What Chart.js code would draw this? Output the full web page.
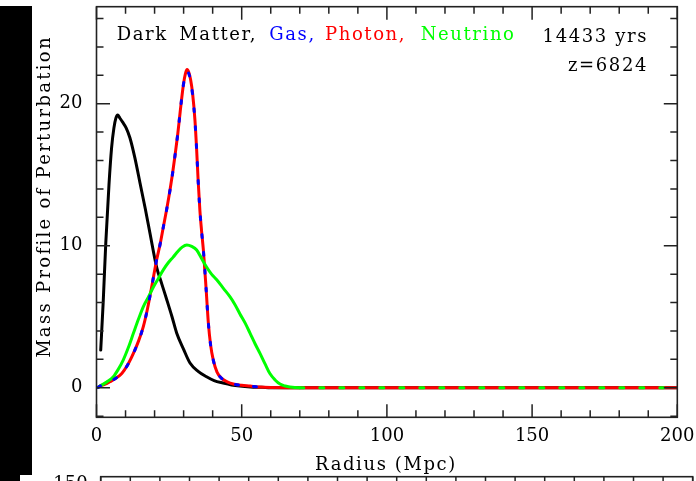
<!DOCTYPE html>
<html><head><meta charset="utf-8">
<script src="https://cdn.jsdelivr.net/npm/chart.js@4"></script>
<style>
html,body{margin:0;padding:0;background:#fff;width:696px;height:481px;overflow:hidden}
body{position:relative}
#c1{position:absolute;left:0;top:0}
#c2{position:absolute;left:20px;top:475px;background:#fff}
.blk{position:absolute;background:#000}
</style></head><body>
<div class="blk" style="left:0;top:6px;width:32px;height:469px"></div>
<div class="blk" style="left:0;top:475px;width:20px;height:6px"></div>
<canvas id="c1" width="696" height="481"></canvas>
<canvas id="c2" width="676" height="481"></canvas>
<script>
// ---------- data ----------
const xTicks = [0, 50, 100, 150, 200];
const yTicks = [0, 10, 20];
const lowerYTicks = [150];

const darkR = [1.45, 2.3, 3.2, 4.3, 5.2, 6.0, 6.7, 7.3, 8.0, 9.0, 10.2, 11.5, 13.2, 15.0, 16.8, 18.4, 20.7, 22.5, 24.2, 26.0, 27.6, 30.0, 32.2, 35.0, 37.9, 40.5, 43.6, 46.5, 49.4, 53, 57, 60, 80, 100, 120, 140, 160, 180, 200];
const darkM = [2.65, 6.0, 10.2, 14.3, 16.9, 18.3, 19.0, 19.2, 19.0, 18.7, 18.3, 17.6, 16.2, 14.4, 12.6, 10.9, 8.5, 7.3, 6.2, 5.0, 3.86, 2.7, 1.74, 1.15, 0.77, 0.5, 0.33, 0.2, 0.12, 0.06, 0.03, 0.0, 0, 0, 0, 0, 0, 0, 0];

const photonR = [0.5, 1.2, 3.0, 4.6, 6.5, 8.7, 10.7, 12.7, 14.5, 16.1, 17.6, 19.0, 20.7, 22.0, 23.0, 24.2, 25.3, 26.2, 27.0, 28.0, 28.8, 29.9, 30.6, 31.2, 31.8, 32.4, 33.1, 33.9, 34.5, 35.0, 35.6, 36.2, 36.8, 37.7, 38.5, 39.3, 40.2, 41.5, 43.1, 45.0, 47.1, 50.0, 52.9, 56, 60, 80, 100, 120, 140, 160, 180, 200];
const photonM = [0.02, 0.12, 0.25, 0.42, 0.65, 1.01, 1.6, 2.42, 3.3, 4.29, 5.6, 7.1, 8.99, 10.2, 11.3, 12.6, 13.9, 15.1, 16.3, 17.9, 19.4, 21.3, 22.1, 22.4, 22.2, 21.7, 20.7, 18.85, 16.7, 14.6, 12.5, 11.0, 9.7, 7.1, 4.6, 3.0, 1.96, 1.1, 0.66, 0.42, 0.26, 0.18, 0.12, 0.05, 0.02, 0, 0, 0, 0, 0, 0, 0];

const gasR = [0.5, 1.2, 3.0, 4.6, 6.5, 8.7, 10.7, 12.7, 14.5, 16.1, 17.6, 19.0, 20.7, 22.0, 23.0, 24.2, 25.3, 26.2, 27.0, 28.0, 28.8, 29.9, 30.6, 31.2, 31.8, 32.4, 33.1, 33.9, 34.5, 35.0, 35.6, 36.2, 36.8, 37.7, 38.5, 39.3, 40.2, 41.5, 43.1, 45.0, 47.1, 50.0, 52.9, 56, 60, 80, 100, 120, 140, 160, 180, 200];
const gasM = [0.02, 0.12, 0.25, 0.42, 0.65, 1.01, 1.6, 2.42, 3.3, 4.29, 5.6, 7.1, 8.99, 10.2, 11.3, 12.6, 13.9, 15.1, 16.3, 17.9, 19.4, 21.3, 22.0, 22.3, 22.1, 21.6, 20.6, 18.8, 16.7, 14.6, 12.5, 11.0, 9.7, 7.1, 4.6, 3.0, 1.96, 1.1, 0.66, 0.42, 0.26, 0.18, 0.12, 0.05, 0.02, 0, 0, 0, 0, 0, 0, 0];

const nuR = [0.5, 1.2, 3.5, 5.8, 7.5, 9.2, 11.0, 12.7, 14.4, 16.1, 17.9, 19.6, 21.3, 23.0, 24.7, 26.4, 28.0, 29.5, 31.1, 32.8, 34.5, 36.2, 37.9, 39.6, 41.4, 43.7, 46.0, 47.7, 49.4, 51.2, 52.9, 54.6, 56.3, 58.0, 59.7, 61.5, 63.2, 65.0, 66.6, 70, 80, 100, 120, 140, 160, 180, 200];
const nuM = [0.03, 0.12, 0.4, 0.77, 1.3, 1.95, 2.85, 3.83, 4.8, 5.7, 6.4, 7.1, 7.7, 8.3, 8.8, 9.2, 9.6, 9.9, 10.05, 9.95, 9.7, 9.1, 8.5, 8.0, 7.6, 7.0, 6.4, 5.85, 5.2, 4.55, 3.83, 3.1, 2.42, 1.7, 1.0, 0.55, 0.26, 0.12, 0.05, 0, 0, 0, 0, 0, 0, 0, 0];

// ---------- helpers ----------
const zip = (r, m) => r.map((v, i) => ({x: v, y: m[i]}));
const SERIF = '"DejaVu Serif", serif';

function innerTicks(chart, xs, ys, sides) {
  const ctx = chart.ctx, a = chart.chartArea;
  const sx = chart.scales.x, sy = chart.scales.y;
  ctx.save();
  ctx.strokeStyle = '#222';
  ctx.lineWidth = 1.5;
  ctx.beginPath();
  if (xs) {
    for (let v = xs.min; v <= xs.max + 1e-9; v += xs.minor) {
      const px = sx.getPixelForValue(v);
      const L = Math.abs(v / xs.major - Math.round(v / xs.major)) < 1e-6 ? 13 : 7;
      if (sides.bottom) { ctx.moveTo(px, a.bottom); ctx.lineTo(px, a.bottom - L); }
      if (sides.top) { ctx.moveTo(px, a.top); ctx.lineTo(px, a.top + L); }
    }
  }
  if (ys) {
    for (let v = ys.min; v <= ys.max + 1e-9; v += ys.minor) {
      const py = sy.getPixelForValue(v);
      const L = Math.abs(v / ys.major - Math.round(v / ys.major)) < 1e-6 ? 13.5 : 7;
      if (sides.left) { ctx.moveTo(a.left, py); ctx.lineTo(a.left + L, py); }
      if (sides.right) { ctx.moveTo(a.right, py); ctx.lineTo(a.right - L, py); }
    }
  }
  ctx.stroke();
  ctx.lineWidth = 1.6;
  ctx.strokeRect(a.left, a.top, a.right - a.left, a.bottom - a.top);
  ctx.restore();
}

const frame1 = {
  id: 'frame1',
  afterDatasetsDraw(chart) {
    innerTicks(chart, {min: 0, max: 200, minor: 10, major: 50}, {min: -2, max: 26, minor: 2, major: 10},
      {top: true, bottom: true, left: true, right: true});
    const ctx = chart.ctx;
    ctx.save();
    ctx.font = '18px ' + SERIF;
    ctx.letterSpacing = '1.6px';
    ctx.textBaseline = 'alphabetic';
    ctx.textAlign = 'left';
    const words = [['Dark', 116.7, '#000'], ['Matter,', 179.3, '#000'], ['Gas,', 269.3, '#0000ff'],
                   ['Photon,', 325, '#ff0000'], ['Neutrino', 420.7, '#00ff00']];
    for (const [w, x, c] of words) { ctx.fillStyle = c; ctx.fillText(w, x, 39.5); }
    ctx.fillStyle = '#000';
    ctx.textAlign = 'right';
    ctx.fillText('14433 yrs', 648, 41.5);
    ctx.fillText('z=6824', 648, 70.7);
    ctx.textAlign = 'center';
    ctx.fillText('Radius (Mpc)', 386, 470);
    ctx.letterSpacing = '2.3px';
    ctx.translate(50, 196.5);
    ctx.rotate(-Math.PI / 2);
    ctx.fillText('Mass Profile of Perturbation', 0, 0);
    ctx.restore();
  }
};

const common = {
  responsive: false, animation: false, devicePixelRatio: 1,
  plugins: {legend: {display: false}, tooltip: {enabled: false}, title: {display: false}},
  elements: {point: {radius: 0}, line: {cubicInterpolationMode: 'monotone', borderCapStyle: 'round', borderJoinStyle: 'round'}},
};
function fixX(h) { return s => { s.height = h; s.paddingLeft = 0; s.paddingRight = 0; s.paddingTop = 0; s.paddingBottom = 0; }; }
function fixY(w) { return s => { s.width = w; s.paddingTop = 0; s.paddingBottom = 0; s.paddingLeft = 0; s.paddingRight = 0; }; }

new Chart(document.getElementById('c1'), {
  type: 'line',
  data: {datasets: [
    {label: 'Gas', data: zip(gasR, gasM), borderColor: '#0000ff', borderWidth: 3, borderDash: [3, 15], order: 1,
     segment: {borderColor: c => c.p0.parsed.x >= 56 ? 'rgba(0,0,0,0)' : '#0000ff'}},
    {label: 'Neutrino', data: zip(nuR, nuM), borderColor: '#00ff00', borderWidth: 3, order: 2,
     segment: {borderDash: c => (c.p0.parsed.y === 0 && c.p1.parsed.y === 0) ? [4, 16] : undefined}},
    {label: 'Photon', data: zip(photonR, photonM), borderColor: '#ff0000', borderWidth: 3, order: 3},
    {label: 'Dark Matter', data: zip(darkR, darkM), borderColor: '#000000', borderWidth: 3, order: 4}
  ]},
  options: Object.assign({}, common, {
    layout: {padding: {top: 6.7, right: 18.7, left: 0, bottom: 0}},
    scales: {
      x: {type: 'linear', min: 0, max: 200,
          afterFit: fixX(63.7),
          afterBuildTicks(s) { s.ticks = xTicks.map(v => ({value: v})); },
          grid: {display: false, drawTicks: false}, border: {display: false},
          ticks: {font: {family: SERIF, size: 18}, color: '#000', padding: 8, maxRotation: 0, autoSkip: false}},
      y: {type: 'linear', min: -2.08, max: 26.83,
          afterFit: fixY(96.5),
          afterBuildTicks(s) { s.ticks = yTicks.map(v => ({value: v})); },
          grid: {display: false, drawTicks: false}, border: {display: false},
          ticks: {font: {family: SERIF, size: 18}, color: '#000', padding: 14, autoSkip: false}}
    }
  }),
  plugins: [frame1]
});

// lower (cut-off) companion panel
const frame2 = {
  id: 'frame2',
  afterDatasetsDraw(chart) {
    innerTicks(chart, {min: 0, max: 200, minor: 10, major: 50}, null, {top: true});
  }
};
new Chart(document.getElementById('c2'), {
  type: 'line',
  data: {datasets: [{data: [], borderWidth: 0}]},
  options: Object.assign({}, common, {
    layout: {padding: {top: 1.7, right: 3.3, left: 0, bottom: 0}},
    scales: {
      x: {type: 'linear', min: 0, max: 200, display: true,
          afterFit: fixX(60),
          afterBuildTicks(s) { s.ticks = xTicks.map(v => ({value: v})); },
          grid: {display: false, drawTicks: false}, border: {display: false},
          ticks: {display: false}},
      y: {type: 'linear', min: 0, max: 152.9,
          afterFit: fixY(80.7),
          afterBuildTicks(s) { s.ticks = lowerYTicks.map(v => ({value: v})); },
          grid: {display: false, drawTicks: false}, border: {display: false},
          ticks: {font: {family: SERIF, size: 18}, color: '#000', padding: 13, autoSkip: false}}
    }
  }),
  plugins: [frame2]
});
</script>
</body></html>
